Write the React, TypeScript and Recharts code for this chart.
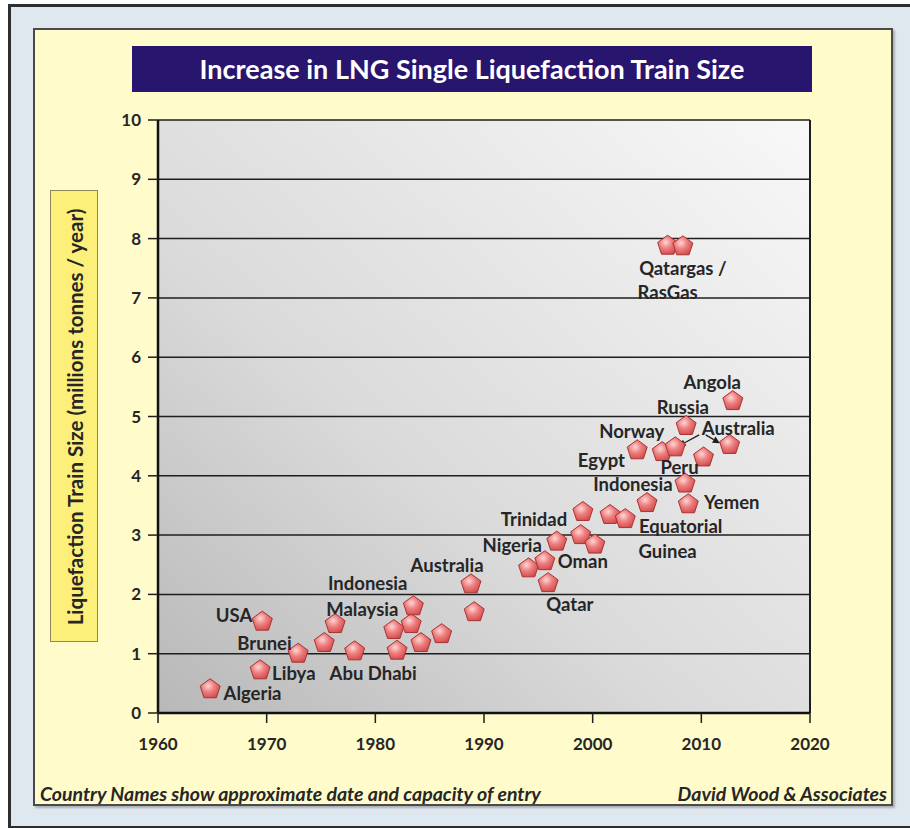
import React from 'react';
import { ScatterChart, Scatter, XAxis, YAxis, CartesianGrid, ReferenceLine } from 'recharts';

// start-up year and single train capacity (Mt/yr)
const trainYears = [
  1964.8, 1969.4, 1969.6, 1972.9, 1975.3, 1976.3, 1978.1, 1981.7, 1982.0, 1983.3,
  1983.5, 1984.2, 1986.1, 1988.8, 1989.1, 1994.1, 1995.6, 1995.9, 1996.7, 1998.9,
  1999.1, 2000.2, 2001.6, 2003.0, 2004.1, 2005.0, 2006.4, 2006.9, 2007.6, 2008.3,
  2008.5, 2008.6, 2008.8, 2010.2, 2012.6, 2012.9,
];
const trainSizes = [
  0.4, 0.72, 1.54, 1.0, 1.18, 1.5, 1.04, 1.4, 1.05, 1.5,
  1.8, 1.18, 1.33, 2.17, 1.7, 2.44, 2.56, 2.19, 2.89, 3.0,
  3.39, 2.84, 3.34, 3.27, 4.43, 3.54, 4.4, 7.88, 4.48, 7.87,
  3.87, 4.84, 3.52, 4.31, 4.52, 5.26,
];

// country names, placed at (year, size) of their text centre
const labelNames = [
  'Algeria', 'Libya', 'USA', 'Brunei', 'Abu Dhabi', 'Malaysia', 'Indonesia', 'Australia',
  'Qatargas /', 'RasGas', 'Angola', 'Russia', 'Norway', 'Australia', 'Egypt', 'Peru',
  'Indonesia', 'Yemen', 'Trinidad', 'Equatorial', 'Guinea', 'Nigeria', 'Oman', 'Qatar',
];
const labelYears = [
  1968.7, 1972.5, 1967.0, 1969.8, 1979.8, 1978.8, 1979.3, 1986.6,
  2008.3, 2006.9, 2011.0, 2008.3, 2003.6, 2013.4, 2000.8, 2008.0,
  2003.7, 2012.8, 1994.6, 2008.1, 2006.9, 1992.6, 1999.1, 1997.9,
];
const labelSizes = [
  0.33, 0.67, 1.66, 1.18, 0.68, 1.75, 2.2, 2.5,
  7.5, 7.1, 5.58, 5.16, 4.76, 4.81, 4.26, 4.14,
  3.86, 3.55, 3.27, 3.16, 2.74, 2.84, 2.56, 1.84,
];

// arrows from the right-hand "Australia" label
const arrowFrom = [{ x: 2009.8, y: 4.69 }, { x: 2010.4, y: 4.69 }];
const arrowTo = [{ x: 2007.9, y: 4.5 }, { x: 2011.7, y: 4.55 }];

const xTicks = [1960, 1970, 1980, 1990, 2000, 2010, 2020];
const yTicks = [0, 1, 2, 3, 4, 5, 6, 7, 8, 9, 10];

const points = trainYears.map((x, i) => ({ x, y: trainSizes[i] }));
const labels = labelNames.map((name, i) => ({ name, x: labelYears[i], y: labelSizes[i] }));

const FONT = 'Lato, "Open Sans", sans-serif';
const INK = '#262626';

const Pentagon = (props: any) => {
  const { cx, cy } = props;
  if (cx == null || cy == null) return null;
  const r = 10.5;
  const pts = [0, 1, 2, 3, 4]
    .map((k) => {
      const a = ((-90 + 72 * k) * Math.PI) / 180;
      return `${cx + r * Math.cos(a)},${cy + r * Math.sin(a)}`;
    })
    .join(' ');
  return <polygon points={pts} fill="url(#pentFill)" stroke="#a83434" strokeWidth={1} />;
};

const CountryLabel = (props: any) => {
  const { cx, cy, payload } = props;
  if (cx == null || cy == null) return null;
  return (
    <text
      x={cx}
      y={cy}
      textAnchor="middle"
      dominantBaseline="central"
      fontFamily={FONT}
      fontWeight={700}
      fontSize={18.5}
      fill={INK}
    >
      {payload.name}
    </text>
  );
};

const ArrowLine = (props: any) => {
  const { x1, y1, x2, y2 } = props;
  if ([x1, y1, x2, y2].some((v) => v == null)) return null;
  const ang = Math.atan2(y2 - y1, x2 - x1);
  const L = 7;
  const W = 3.5;
  const bx = x2 - L * Math.cos(ang);
  const by = y2 - L * Math.sin(ang);
  const p1 = `${bx + W * Math.sin(ang)},${by - W * Math.cos(ang)}`;
  const p2 = `${bx - W * Math.sin(ang)},${by + W * Math.cos(ang)}`;
  return (
    <g>
      <line x1={x1} y1={y1} x2={bx} y2={by} stroke="#1e1e1e" strokeWidth={1.3} />
      <polygon points={`${x2},${y2} ${p1} ${p2}`} fill="#1e1e1e" />
    </g>
  );
};

const tickStyle = { fontFamily: FONT, fontWeight: 700, fontSize: 17, fill: INK };

export default function App() {
  return (
    <div style={{ position: 'absolute', left: 0, top: 0, width: 910, height: 828, overflow: 'hidden' }}>
      <svg width={0} height={0} style={{ position: 'absolute' }}>
        <defs>
          <linearGradient id="plotBg" x1="0" y1="1" x2="1" y2="0">
            <stop offset="0%" stopColor="#b8b8b8" />
            <stop offset="40%" stopColor="#dadada" />
            <stop offset="100%" stopColor="#f8f8f8" />
          </linearGradient>
          <radialGradient id="pentFill" cx="0.4" cy="0.38" r="0.7">
            <stop offset="0%" stopColor="#ffd6d6" />
            <stop offset="45%" stopColor="#ee7f7f" />
            <stop offset="100%" stopColor="#cf4646" />
          </radialGradient>
        </defs>
      </svg>

      {/* outer frame */}
      <div
        style={{
          position: 'absolute',
          left: 8,
          top: 4,
          width: 910,
          height: 819,
          background: '#e0e8ef',
          border: '3px solid #2e2e2e',
          borderRight: 'none',
        }}
      />
      {/* yellow panel */}
      <div
        style={{
          position: 'absolute',
          left: 33,
          top: 28,
          width: 856,
          height: 774,
          background: '#fffbcb',
          border: '2px solid #4a4a4a',
          boxShadow: '2px 2px 2px rgba(0,0,0,0.25)',
        }}
      />
      {/* title bar */}
      <div
        style={{
          position: 'absolute',
          left: 132,
          top: 46,
          width: 680,
          height: 46,
          background: '#28166e',
          color: '#ffffff',
          fontFamily: FONT,
          fontWeight: 700,
          fontSize: 27,
          lineHeight: '46px',
          textAlign: 'center',
          whiteSpace: 'nowrap',
        }}
      >
        Increase in LNG Single Liquefaction Train Size
      </div>
      {/* y axis title box */}
      <div
        style={{
          position: 'absolute',
          left: 50,
          top: 190,
          width: 48,
          height: 452,
          background: '#fcf07a',
          border: '1px solid #8c8a5c',
          boxSizing: 'border-box',
        }}
      >
        <div
          style={{
            position: 'absolute',
            left: 24,
            top: 226,
            width: 452,
            transform: 'translate(-50%, -50%) rotate(-90deg)',
            textAlign: 'center',
            fontFamily: FONT,
            fontWeight: 700,
            fontSize: 20.5,
            color: INK,
            whiteSpace: 'nowrap',
          }}
        >
          Liquefaction Train Size (millions tonnes / year)
        </div>
      </div>
      {/* footer notes */}
      <div
        style={{
          position: 'absolute',
          left: 40,
          top: 782,
          fontFamily: FONT,
          fontWeight: 700,
          fontStyle: 'italic',
          fontSize: 19.5,
          color: INK,
          whiteSpace: 'nowrap',
        }}
      >
        Country Names show approximate date and capacity of entry
      </div>
      <div
        style={{
          position: 'absolute',
          right: 910 - 887,
          top: 782,
          fontFamily: FONT,
          fontWeight: 700,
          fontStyle: 'italic',
          fontSize: 19.5,
          color: INK,
          whiteSpace: 'nowrap',
        }}
      >
        David Wood &amp; Associates
      </div>

      <div style={{ position: 'absolute', left: 0, top: 0 }}>
        <ScatterChart width={910} height={828} margin={{ top: 120, right: 100, bottom: 65, left: 98 }}>
          <CartesianGrid vertical={false} stroke="#1e1e1e" strokeWidth={1.5} fill="url(#plotBg)" fillOpacity={1} />
          <XAxis
            type="number"
            dataKey="x"
            domain={[1960, 2020]}
            ticks={xTicks}
            height={50}
            tick={tickStyle}
            tickSize={10}
            tickMargin={15}
            tickLine={{ stroke: '#1e1e1e', strokeWidth: 1.5 }}
            axisLine={{ stroke: '#111', strokeWidth: 2.5 }}
            allowDecimals={false}
          />
          <YAxis
            type="number"
            dataKey="y"
            domain={[0, 10]}
            ticks={yTicks}
            width={60}
            tick={tickStyle}
            tickSize={10}
            tickMargin={7}
            tickLine={{ stroke: '#1e1e1e', strokeWidth: 1.5 }}
            axisLine={{ stroke: '#111', strokeWidth: 2.5 }}
          />
          <ReferenceLine x={2020} stroke="#1e1e1e" strokeWidth={2} />
          {arrowFrom.map((from, i) => (
            <ReferenceLine key={i} segment={[from, arrowTo[i]]} shape={ArrowLine} />
          ))}
          <Scatter data={points} shape={Pentagon} isAnimationActive={false} />
          <Scatter data={labels} shape={CountryLabel} isAnimationActive={false} />
        </ScatterChart>
      </div>
    </div>
  );
}
